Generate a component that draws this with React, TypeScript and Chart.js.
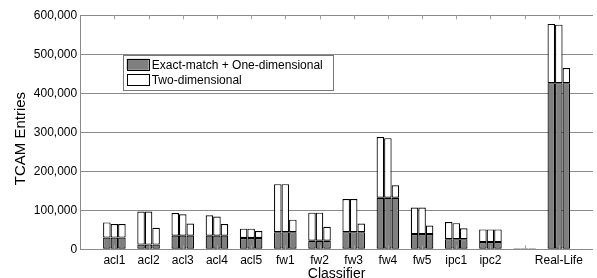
import React, { useEffect, useRef } from 'react';
import { Chart, registerables } from 'chart.js';

Chart.register(...registerables);

const categories = ['', 'acl1', 'acl2', 'acl3', 'acl4', 'acl5', 'fw1', 'fw2', 'fw3', 'fw4', 'fw5', 'ipc1', 'ipc2', '', 'Real-Life', ''];

// Exact-match + One-dimensional part (same for the three bars of a group)
const exactOneDim = [null, 30000, 12000, 35000, 35000, 29000, 44000, 22000, 44000, 132000, 39000, 26000, 18500, 2500, 426000, null];

// Total heights of the three bars of each group
const totalBar1 = [null, 69000, 97000, 93000, 87000, 53000, 167000, 94000, 129000, 288000, 107000, 70000, 51000, 2500, 578000, null];
const totalBar2 = [null, 65000, 97000, 90000, 84000, 53000, 167000, 94000, 129000, 285000, 107000, 67000, 51000, 2500, 576000, null];
const totalBar3 = [null, 65000, 55000, 66000, 65000, 47000, 76000, 58000, 66000, 164000, 61000, 54000, 51000, 2500, 465000, null];

const yTicks = [0, 100000, 200000, 300000, 400000, 500000, 600000];

const seriesLabels = ['Exact-match + One-dimensional', 'Two-dimensional'];
const DARK = '#7f7f7f';
const LIGHT = '#ffffff';
const GRID = '#8a8a8a';
const FONT = "'Liberation Sans', Arial, sans-serif";

const topPart = (totals: (number | null)[]) =>
  totals.map((t, i) => {
    const d = exactOneDim[i];
    if (t == null || d == null) return null;
    const v = t - d;
    return v > 0 ? v : null;
  });

const boxLegend = {
  id: 'boxLegend',
  afterDraw(chart: any) {
    const { ctx, chartArea } = chart;
    const x = chartArea.left + 42.5;
    const y = chartArea.top + 40;
    const w = 210;
    const h = 35;
    ctx.save();
    ctx.fillStyle = '#fff';
    ctx.fillRect(x, y, w, h);
    ctx.strokeStyle = '#777';
    ctx.lineWidth = 1;
    ctx.strokeRect(Math.round(x) + 0.5, Math.round(y) + 0.5, w, h);
    const items = [
      { label: chart.data.datasets[0].label, color: chart.data.datasets[0].backgroundColor },
      { label: chart.data.datasets[1].label, color: chart.data.datasets[1].backgroundColor },
    ];
    items.forEach((it, k) => {
      const sy = y + 3.5 + k * 15;
      ctx.fillStyle = it.color;
      ctx.fillRect(x + 4, sy, 22, 11);
      ctx.strokeStyle = '#000';
      ctx.lineWidth = 1;
      ctx.strokeRect(Math.round(x + 4) + 0.5, Math.round(sy) + 0.5, 22, 11);
      ctx.fillStyle = '#000';
      ctx.font = `12px ${FONT}`;
      ctx.textBaseline = 'middle';
      ctx.textAlign = 'left';
      ctx.fillText(it.label, x + 29, sy + 6.5);
    });
    ctx.restore();
  },
};

const innerTicks = {
  id: 'innerTicks',
  afterDatasetsDraw(chart: any) {
    const { ctx, chartArea, scales } = chart;
    const xs = scales.x;
    ctx.save();
    ctx.strokeStyle = '#a0a0a0';
    ctx.lineWidth = 1;
    for (let i = 1; i < categories.length - 1; i++) {
      const px = Math.round(xs.getPixelForValue(i)) + 0.5;
      ctx.beginPath();
      ctx.moveTo(px, chartArea.top);
      ctx.lineTo(px, chartArea.top + 4);
      ctx.moveTo(px, chartArea.bottom);
      ctx.lineTo(px, chartArea.bottom - 4);
      ctx.stroke();
    }
    ctx.restore();
  },
};

export default function App() {
  const ref = useRef<HTMLCanvasElement | null>(null);

  useEffect(() => {
    if (!ref.current) return;
    const totals = [totalBar1, totalBar2, totalBar3];
    const datasets: any[] = [];
    totals.forEach((t, k) => {
      datasets.push({
        label: seriesLabels[0],
        data: exactOneDim,
        stack: 's' + k,
        backgroundColor: DARK,
        borderColor: '#000',
        borderWidth: 1.2,
        borderSkipped: false,
      });
      datasets.push({
        label: seriesLabels[1],
        data: topPart(t),
        stack: 's' + k,
        backgroundColor: LIGHT,
        borderColor: '#000',
        borderWidth: 1.2,
        borderSkipped: false,
      });
    });

    const chart = new Chart(ref.current, {
      type: 'bar',
      data: { labels: categories, datasets },
      options: {
        animation: false,
        responsive: true,
        maintainAspectRatio: false,
        font: { family: FONT },
        layout: { padding: { top: 15.3, left: 0, right: 0, bottom: 0 } },
        datasets: { bar: { categoryPercentage: 0.66, barPercentage: 1.0 } },
        plugins: { legend: { display: false }, tooltip: { enabled: false } },
        scales: {
          x: {
            type: 'category',
            stacked: true,
            offset: false,
            grid: { display: false, drawTicks: false },
            border: { display: false },
            ticks: { autoSkip: false, maxRotation: 0, minRotation: 0, padding: 4, color: '#000', font: { family: FONT, size: 12 } },
            title: { display: true, text: 'Classifier', color: '#000', font: { family: FONT, size: 14 }, padding: { top: 0, bottom: -4.5 } },
            afterFit: (s: any) => { s.height = 28.7; },
          },
          y: {
            stacked: true,
            min: 0,
            max: 600000,
            afterBuildTicks: (s: any) => { s.ticks = yTicks.map((v) => ({ value: v })); },
            ticks: { padding: 3, color: '#000', font: { family: FONT, size: 12 } },
            grid: { color: GRID, drawTicks: false, lineWidth: 1 },
            border: { display: true, color: GRID },
            title: { display: true, text: 'TCAM Entries   ', color: '#000', font: { family: FONT, size: 15 }, padding: { top: 12, bottom: 0 } },
            afterFit: (s: any) => { s.width = 80.2; },
          },
        },
      } as any,
      plugins: [innerTicks, boxLegend],
    });
    return () => chart.destroy();
  }, []);

  return (
    <div style={{ position: 'fixed', left: 0, top: 0, width: 597, height: 278, background: '#fff' }}>
      <canvas ref={ref} />
    </div>
  );
}
